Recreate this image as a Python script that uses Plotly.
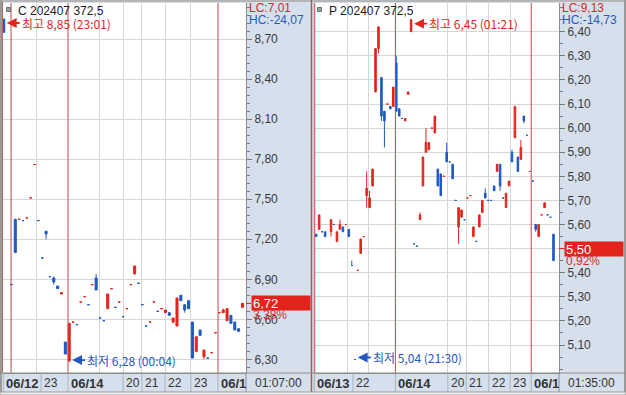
import plotly.graph_objects as go

W, H = 626, 395

# ---------------- data ----------------
# Left chart: C 202407 372.5  (bar slot index + OHLC)
c_slot = [0, 2, 3, 4, 5, 6, 7, 8, 9, 10, 11, 12, 13, 14, 15, 16, 17, 18, 19, 20,
          21, 22, 23, 24, 25, 26, 27, 28, 29, 30, 31, 32, 33, 34, 35, 36, 37, 38, 39, 40,
          41, 42, 43, 44, 45, 46, 47, 48, 49, 50, 51, 52, 53, 54, 55, 56, 57, 58, 59, 60,
          61, 62]
c_open = [8.85, 6.86, 7.35, 7.35, 7.34, 7.36, 7.51, 7.76, 7.34, 7.06, 7.26, 6.92, 6.91, 6.85, 6.79, 6.43,
          6.29, 6.58, 6.56, 6.73, 6.77, 6.71, 6.86, 6.91, 6.61, 6.59, 6.68, 6.83, 6.69, 6.73, 6.62, 6.68,
          6.86, 6.94, 6.87, 6.71, 6.55, 6.58, 6.73, 6.66, 6.68, 6.65, 6.65, 6.58, 6.55, 6.78, 6.71, 6.74,
          6.58, 6.36, 6.52, 6.32, 6.31, 6.35, 6.50, 6.65, 6.65, 6.59, 6.63, 6.58, 6.53, 6.69]
c_high = [8.85, 6.86, 7.35, 7.35, 7.34, 7.36, 7.51, 7.76, 7.34, 7.06, 7.26, 6.92, 6.92, 6.85, 6.80, 6.43,
          6.57, 6.58, 6.56, 6.73, 6.77, 6.71, 6.86, 6.94, 6.61, 6.59, 6.79, 6.83, 6.69, 6.73, 6.62, 6.68,
          6.86, 7.00, 6.87, 6.71, 6.55, 6.58, 6.73, 6.66, 6.68, 6.67, 6.65, 6.61, 6.76, 6.78, 6.71, 6.74,
          6.58, 6.47, 6.52, 6.37, 6.31, 6.35, 6.50, 6.65, 6.68, 6.68, 6.63, 6.58, 6.53, 6.72]
c_low = [8.75, 6.86, 7.10, 7.35, 7.34, 7.36, 7.51, 7.76, 7.34, 7.06, 7.20, 6.92, 6.86, 6.83, 6.79, 6.34,
         6.28, 6.58, 6.56, 6.73, 6.77, 6.71, 6.86, 6.82, 6.61, 6.59, 6.68, 6.83, 6.69, 6.73, 6.62, 6.68,
         6.86, 6.94, 6.87, 6.71, 6.55, 6.58, 6.73, 6.66, 6.68, 6.65, 6.63, 6.57, 6.55, 6.74, 6.65, 6.68,
         6.31, 6.36, 6.48, 6.30, 6.31, 6.35, 6.50, 6.65, 6.65, 6.59, 6.57, 6.52, 6.51, 6.69]
c_close = [8.75, 6.86, 7.10, 7.35, 7.34, 7.36, 7.51, 7.76, 7.34, 7.06, 7.24, 6.92, 6.88, 6.83, 6.80, 6.34,
           6.57, 6.58, 6.56, 6.73, 6.77, 6.71, 6.86, 6.82, 6.61, 6.59, 6.79, 6.83, 6.69, 6.73, 6.62, 6.68,
           6.86, 7.00, 6.87, 6.71, 6.55, 6.58, 6.73, 6.66, 6.68, 6.67, 6.63, 6.61, 6.76, 6.74, 6.67, 6.68,
           6.31, 6.47, 6.48, 6.37, 6.31, 6.35, 6.50, 6.65, 6.67, 6.68, 6.57, 6.52, 6.51, 6.72]
c_yticks = [6.30, 6.60, 6.90, 7.20, 7.50, 7.80, 8.10, 8.40, 8.70]
c_time_labels = ["06/12", "23", "06/14", "20", "21", "22", "23", "06/1"]
c_time_bold = [True, False, True, False, False, False, False, True]
c_time_pos = [-0.1, 9.7, 16.7, 31.0, 35.9, 41.9, 48.6, 55.65]
c_grid_pos = [8.6, 25.0, 31.0, 35.9, 41.9, 48.6]
c_day_pos = [1.9, 16.7, 55.65]

# Right chart: P 202407 372.5
p_slot = [0, 1, 2, 3, 5, 6, 7, 8, 9, 10, 11, 12, 13, 14, 15, 16, 17, 18, 19, 20,
          21, 22, 23, 24, 25, 26, 27, 28, 29, 30, 31, 32, 33, 34, 35, 36, 37, 38, 39, 40,
          41, 42, 43, 44, 45, 46, 47, 48, 49, 50, 51, 52, 53, 54, 55, 56, 57, 58, 59, 60,
          61, 62, 63, 64, 65, 66, 67, 68, 69, 70, 71, 72, 73, 74, 75, 76, 77, 78, 79, 80]
p_open = [5.56, 5.58, 5.57, 5.57, 5.57, 5.60, 5.53, 5.58, 5.59, 5.60, 5.58, 5.43, 5.04, 5.41, 5.48, 5.55,
          5.72, 5.67, 5.76, 6.15, 6.33, 6.21, 6.07, 6.10, 6.09, 6.09, 6.27, 6.08, 6.04, 6.03, 6.14, 6.40,
          5.52, 5.51, 5.62, 5.76, 5.90, 5.91, 6.00, 5.98, 5.83, 5.81, 5.80, 5.90, 5.86, 5.85, 5.70, 5.59,
          5.63, 5.62, 5.71, 5.72, 5.55, 5.53, 5.59, 5.65, 5.73, 5.70, 5.70, 5.76, 5.82, 5.85, 5.71, 5.67,
          5.76, 5.90, 5.96, 5.88, 5.87, 6.05, 5.97, 5.82, 5.78, 5.60, 5.55, 5.64, 5.67, 5.64, 5.63, 5.56]
p_high = [5.56, 5.64, 5.57, 5.57, 5.62, 5.60, 5.57, 5.62, 5.59, 5.60, 5.58, 5.45, 5.04, 5.41, 5.54, 5.55,
          5.82, 5.74, 5.83, 6.33, 6.42, 6.21, 6.07, 6.10, 6.09, 6.17, 6.30, 6.08, 6.04, 6.04, 6.15, 6.45,
          5.52, 5.51, 5.65, 5.88, 6.00, 5.94, 6.00, 6.05, 5.83, 5.81, 5.80, 5.94, 5.86, 5.85, 5.70, 5.67,
          5.66, 5.62, 5.71, 5.72, 5.59, 5.53, 5.64, 5.70, 5.75, 5.70, 5.70, 5.76, 5.85, 5.85, 5.71, 5.73,
          5.78, 5.91, 6.09, 5.88, 5.95, 6.05, 5.97, 5.82, 5.78, 5.60, 5.60, 5.64, 5.69, 5.64, 5.63, 5.56]
p_low = [5.55, 5.58, 5.57, 5.55, 5.55, 5.60, 5.53, 5.58, 5.57, 5.60, 5.55, 5.43, 5.04, 5.41, 5.48, 5.55,
         5.67, 5.67, 5.76, 6.15, 6.31, 6.03, 5.92, 6.10, 6.08, 6.09, 6.07, 6.05, 6.04, 6.03, 6.14, 6.40,
         5.52, 5.51, 5.62, 5.76, 5.90, 5.91, 6.00, 5.98, 5.76, 5.72, 5.80, 5.86, 5.86, 5.79, 5.70, 5.52,
         5.63, 5.62, 5.71, 5.72, 5.55, 5.53, 5.59, 5.65, 5.71, 5.70, 5.70, 5.74, 5.82, 5.74, 5.71, 5.67,
         5.76, 5.86, 5.96, 5.82, 5.87, 6.02, 5.97, 5.82, 5.78, 5.57, 5.55, 5.64, 5.67, 5.64, 5.63, 5.45]
p_close = [5.55, 5.64, 5.57, 5.55, 5.62, 5.60, 5.57, 5.60, 5.57, 5.60, 5.55, 5.43, 5.04, 5.41, 5.54, 5.55,
           5.75, 5.71, 5.83, 6.33, 6.42, 6.05, 6.03, 6.10, 6.08, 6.17, 6.07, 6.05, 6.04, 6.04, 6.15, 6.45,
           5.52, 5.51, 5.64, 5.88, 5.94, 5.94, 6.00, 6.05, 5.76, 5.72, 5.80, 5.86, 5.86, 5.79, 5.70, 5.67,
           5.66, 5.62, 5.71, 5.72, 5.59, 5.53, 5.64, 5.70, 5.71, 5.70, 5.70, 5.74, 5.85, 5.76, 5.71, 5.73,
           5.78, 5.86, 6.09, 5.82, 5.92, 6.03, 5.97, 5.82, 5.78, 5.58, 5.60, 5.64, 5.69, 5.64, 5.63, 5.45]
p_yticks = [5.10, 5.20, 5.30, 5.40, 5.50, 5.60, 5.70, 5.80, 5.90, 6.00, 6.10, 6.20, 6.30, 6.40]
p_time_labels = ["06/13", "22", "06/14", "20", "21", "22", "23", "06/1"]
p_time_bold = [True, False, True, False, False, False, False, True]
p_time_pos = [-0.6, 12.4, 26.7, 44.4, 50.6, 58.2, 65.4, 72.5]
p_grid_pos = [10.5, 17.7, 44.4, 50.6, 58.2, 65.4]
p_day_pos = [-0.5, 26.7, 72.5]

panels = [
    dict(name="C 202407 372,5", slot=c_slot, o=c_open, h=c_high, l=c_low, c=c_close,
         yticks=c_yticks, minor=0.06, tlabels=c_time_labels, tbold=c_time_bold, tpos=c_time_pos,
         grid=c_grid_pos, days=c_day_pos, last=6.72, last_txt="6,72", pct="3,38%",
         lc="LC:7,01", hc="HC:-24,07", clock="01:07:00",
         hi=dict(slot=0, price=8.85, txt="최고 8,85 (23:01)"),
         lo=dict(slot=17, price=6.28, txt="최저 6,28 (00:04)"),
         px0=3, px1=246, axr=311, xr=[-0.19, 62.92], yr=[6.198, 8.970]),
    dict(name="P 202407 372,5", slot=p_slot, o=p_open, h=p_high, l=p_low, c=p_close,
         yticks=p_yticks, minor=0.05, tlabels=p_time_labels, tbold=p_time_bold, tpos=p_time_pos,
         grid=p_grid_pos, days=p_day_pos, last=5.50, last_txt="5,50", pct="0,92%",
         lc="LC:9,13", hc="HC:-14,73", clock="01:35:00",
         hi=dict(slot=32, price=6.45, txt="최고 6,45 (01:21)"),
         lo=dict(slot=13, price=5.04, txt="최저 5,04 (21:30)"),
         px0=314, px1=559, axr=624, xr=[-0.74, 81.86], yr=[4.984, 6.519]),
]

RED = "#e3241c"
BLUE = "#1f58c2"
SEP_RED = "#c4474a"
GRID = "#d6d6d6"
AXBG = "#d6e0ed"
TXT = "#3a3a3a"
NUMFONT = "Liberation Sans, Arial, sans-serif"
KRFONT = "Noto Sans CJK KR, sans-serif"

PLOT_TOP, PLOT_BOT, BAND_BOT = 3, 373, 392


def fx(px):
    return px / W


def fy(py):
    return 1 - py / H


fig = go.Figure()
shapes = []
annotations = []

for k, p in enumerate(panels):
    sfx = "" if k == 0 else str(k + 1)
    xname, yname = "x" + sfx, "y" + sfx
    fig.add_trace(go.Candlestick(
        x=p["slot"], open=p["o"], high=p["h"], low=p["l"], close=p["c"],
        xaxis=xname, yaxis=yname, whiskerwidth=0, hoverinfo="skip",
        increasing=dict(line=dict(color=RED, width=1), fillcolor=RED),
        decreasing=dict(line=dict(color=BLUE, width=1), fillcolor=BLUE),
        showlegend=False,
    ))
    fig.update_layout(**{
        "xaxis" + sfx: dict(
            domain=[fx(p["px0"]), fx(p["px1"])], range=p["xr"], anchor=yname,
            tickvals=p["grid"], showticklabels=False, ticks="", showgrid=True,
            gridcolor=GRID, gridwidth=1, zeroline=False, showline=True,
            linecolor="#8c8c8c", linewidth=1, rangeslider=dict(visible=False),
            fixedrange=True),
        "yaxis" + sfx: dict(
            domain=[fy(PLOT_BOT), fy(PLOT_TOP)], range=p["yr"], anchor=xname,
            side="right", tickvals=p["yticks"], tickformat=".2f", ticks="outside",
            ticklen=5, tickcolor="#7a7a7a", tickfont=dict(family=NUMFONT, size=12, color=TXT),
            showgrid=True, gridcolor=GRID, zeroline=False, showline=True,
            linecolor="#8c8c8c", linewidth=1,
            minor=dict(ticks="outside", ticklen=3, tickcolor="#7a7a7a",
                       dtick=p["minor"], tick0=p["yticks"][0], showgrid=False),
            fixedrange=True),
    })

    # day separators (red) inside the plot
    for d in p["days"]:
        shapes.append(dict(type="line", xref=xname, yref="paper", x0=d, x1=d,
                           y0=fy(PLOT_BOT), y1=fy(PLOT_TOP),
                           line=dict(color=SEP_RED, width=1), layer="above"))

    # time label band
    for lbl, bold, pos in zip(p["tlabels"], p["tbold"], p["tpos"]):
        annotations.append(dict(
            xref=xname, yref="paper", x=pos, y=fy((PLOT_BOT + BAND_BOT) / 2 + 0.5),
            xanchor="left", yanchor="middle", xshift=1, showarrow=False,
            text=("<b>%s</b>" % lbl) if bold else lbl,
            font=dict(family=NUMFONT, size=13 if bold else 12, color="#333333")))
        shapes.append(dict(type="line", xref=xname, yref="paper", x0=pos, x1=pos,
                           y0=fy(BAND_BOT), y1=fy(PLOT_BOT),
                           line=dict(color="#aab3c0", width=1)))
    shapes.append(dict(type="line", xref="paper", yref="paper",
                       x0=fx(p["px1"]), x1=fx(p["px1"]), y0=fy(BAND_BOT), y1=fy(PLOT_BOT),
                       line=dict(color="#8c8c8c", width=1)))
    annotations.append(dict(
        xref="paper", yref="paper", x=fx(p["px1"] + 7), y=fy((PLOT_BOT + BAND_BOT) / 2 + 0.5),
        xanchor="left", yanchor="middle", showarrow=False, text=p["clock"],
        font=dict(family=NUMFONT, size=12, color="#333333")))

    # title
    shapes.append(dict(type="rect", xref="paper", yref="paper",
                       x0=fx(p["px0"] + 3.5), x1=fx(p["px0"] + 7.5), y0=fy(11.5), y1=fy(7.5),
                       fillcolor="#a0a0a0", line=dict(color="#707070", width=1)))
    annotations.append(dict(
        xref="paper", yref="paper", x=fx(p["px0"] + 13), y=fy(10.5),
        xanchor="left", yanchor="middle", showarrow=False, text=p["name"],
        font=dict(family=NUMFONT, size=12, color="#202020")))

    # LC / HC
    annotations.append(dict(
        xref="paper", yref="paper", x=fx(p["px1"] + 1), y=fy(8),
        xanchor="left", yanchor="middle", showarrow=False, text=p["lc"],
        font=dict(family=NUMFONT, size=12, color="#d42a24")))
    annotations.append(dict(
        xref="paper", yref="paper", x=fx(p["px1"] + 1), y=fy(19.5),
        xanchor="left", yanchor="middle", showarrow=False, text=p["hc"],
        font=dict(family=NUMFONT, size=12, color="#2a5ab8")))

    # current price box
    shapes.append(dict(type="line", xref="paper", yref=yname,
                       x0=fx(p["px1"]), x1=fx(p["px1"] + 5), y0=p["last"], y1=p["last"],
                       line=dict(color=RED, width=1)))
    annotations.append(dict(
        xref="paper", yref=yname, x=fx(p["px1"] + 4.5), y=p["last"],
        xanchor="left", yanchor="middle", showarrow=False, text=p["last_txt"],
        bgcolor=RED, width=56, height=12, align="left", borderpad=1,
        font=dict(family=NUMFONT, size=13, color="white")))
    annotations.append(dict(
        xref="paper", yref=yname, x=fx(p["px1"] + 5), y=p["last"], yshift=-12,
        xanchor="left", yanchor="middle", showarrow=False, text=p["pct"],
        font=dict(family=NUMFONT, size=12, color="#d42a24")))

    # high / low markers
    for mk, col, ysh in ((p["hi"], RED, -4), (p["lo"], BLUE, 2)):
        annotations.append(dict(
            xref=xname, yref=yname, x=mk["slot"], y=mk["price"], xshift=3, yshift=ysh,
            ax=13, ay=0, showarrow=True, arrowhead=2, arrowsize=1.1, arrowwidth=1.8,
            arrowcolor=col, xanchor="left", yanchor="middle", text=mk["txt"],
            standoff=0, startstandoff=0,
            font=dict(family=KRFONT, size=12, color=col)))

# frame pieces
shapes += [
    dict(type="rect", xref="paper", yref="paper", x0=0, x1=1, y0=fy(2), y1=1,
         fillcolor="#b5b5b5", line=dict(width=0), layer="below"),
    dict(type="line", xref="paper", yref="paper", x0=fx(1), x1=fx(1), y0=fy(BAND_BOT), y1=1,
         line=dict(color="#9a9a9a", width=2)),
    dict(type="line", xref="paper", yref="paper", x0=fx(2.5), x1=fx(2.5), y0=fy(PLOT_BOT), y1=fy(2),
         line=dict(color="#b06a6a", width=1)),
    dict(type="line", xref="paper", yref="paper", x0=fx(311.5), x1=fx(311.5), y0=fy(BAND_BOT), y1=1,
         line=dict(color="#9b5c5c", width=1.5)),
    dict(type="line", xref="paper", yref="paper", x0=fx(313), x1=fx(313), y0=fy(BAND_BOT), y1=1,
         line=dict(color="#c9c9c9", width=1)),
    dict(type="line", xref="paper", yref="paper", x0=fx(625), x1=fx(625), y0=fy(BAND_BOT), y1=1,
         line=dict(color="#9a9a9a", width=2)),
    dict(type="line", xref="paper", yref="paper", x0=0, x1=1, y0=fy(PLOT_BOT), y1=fy(PLOT_BOT),
         line=dict(color="#8c8c8c", width=1)),
    dict(type="rect", xref="paper", yref="paper", x0=0, x1=1, y0=0, y1=fy(BAND_BOT),
         fillcolor="#f2f2f2", line=dict(color="#9a9a9a", width=1)),
]

fig.update_layout(
    width=W, height=H, margin=dict(l=0, r=0, t=0, b=0),
    paper_bgcolor=AXBG, plot_bgcolor="white",
    separators=",.", boxgap=0.25, showlegend=False,
    shapes=shapes, annotations=annotations,
    font=dict(family=NUMFONT, size=12, color=TXT),
)

fig.write_html(
    "out.html",
    config={"displayModeBar": False, "staticPlot": True},
    post_script="document.body.style.margin='0';document.body.style.padding='0';"
                "document.body.style.overflow='hidden';",
)
